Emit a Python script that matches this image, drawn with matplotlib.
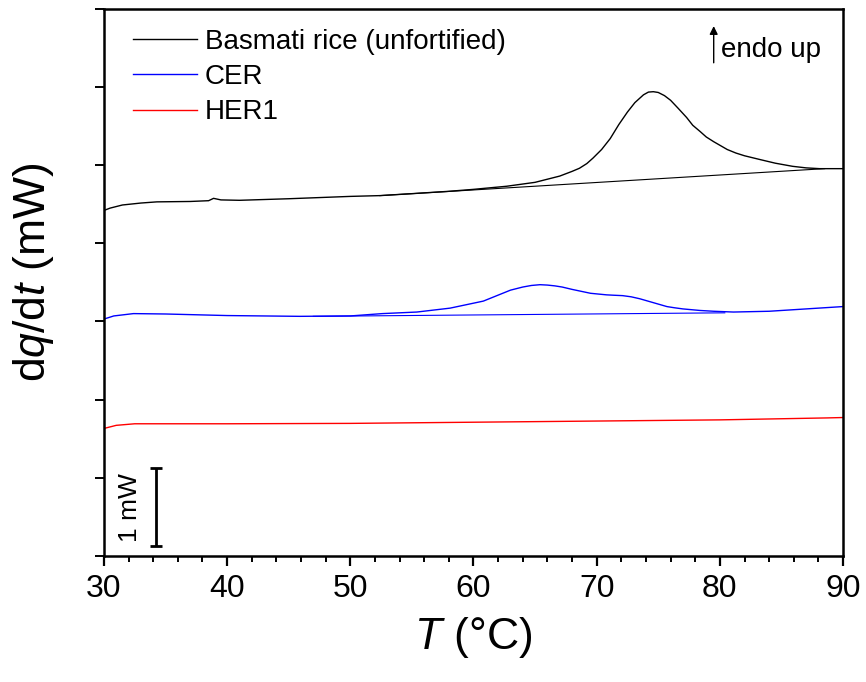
import matplotlib
matplotlib.use("Agg")
import matplotlib.pyplot as plt
from matplotlib.ticker import MultipleLocator

plt.rcParams['font.family'] = ['Liberation Sans', 'DejaVu Sans']
plt.rcParams['mathtext.fontset'] = 'custom'
plt.rcParams['mathtext.rm'] = 'Liberation Sans'
plt.rcParams['mathtext.it'] = 'Liberation Sans:italic'

# Basmati rice (unfortified)
rice_T = [30.0, 30.5, 31.5, 33.0, 34.3, 37.0, 38.5, 38.9, 39.5, 41.0, 45.0,
          50.0, 52.4, 55.0, 58.0, 60.0, 62.7, 65.0, 66.0, 67.0, 68.0, 68.6,
          69.2, 69.7, 70.4, 71.1, 71.8, 72.5, 73.1, 73.8, 74.2, 74.6, 75.0,
          75.5, 76.0, 76.6, 77.3, 77.8, 78.4, 78.9, 79.5, 80.6, 81.3, 82.0,
          83.3, 84.5, 85.9, 87.0, 88.1, 90.0]
rice_q = [4.42, 4.45, 4.49, 4.515, 4.53, 4.535, 4.545, 4.575, 4.555, 4.55, 4.57,
          4.60, 4.61, 4.635, 4.665, 4.69, 4.73, 4.78, 4.82, 4.86, 4.92, 4.96,
          5.02, 5.09, 5.20, 5.34, 5.52, 5.68, 5.80, 5.90, 5.935, 5.94, 5.93,
          5.89, 5.83, 5.73, 5.61, 5.51, 5.43, 5.36, 5.30, 5.20, 5.155, 5.12,
          5.07, 5.025, 4.985, 4.965, 4.955, 4.955]
rice_base_T = [52.4, 88.5]
rice_base_q = [4.61, 4.955]

# CER
cer_T = [30.0, 30.8, 32.4, 35.0, 40.0, 45.9, 50.0, 52.6, 55.4, 58.1, 60.8,
         61.9, 63.0, 64.0, 64.7, 65.4, 66.0, 66.6, 67.2, 68.0, 69.5, 70.8,
         71.4, 72.1, 72.8, 73.5, 74.6, 75.7, 76.3, 77.0, 78.4, 79.5, 81.1,
         84.0, 87.0, 90.0]
cer_q = [3.03, 3.07, 3.10, 3.095, 3.075, 3.065, 3.07, 3.10, 3.12, 3.17, 3.26,
         3.33, 3.40, 3.44, 3.46, 3.47, 3.465, 3.455, 3.44, 3.41, 3.36, 3.34,
         3.335, 3.33, 3.315, 3.29, 3.24, 3.19, 3.175, 3.16, 3.14, 3.13, 3.12,
         3.13, 3.16, 3.19]
cer_base_T = [47.0, 80.4]
cer_base_q = [3.065, 3.11]

# HER1
her_T = [30.0, 31.0, 32.5, 40.0, 50.0, 60.0, 70.0, 80.0, 88.7, 90.0]
her_q = [1.63, 1.67, 1.69, 1.69, 1.695, 1.71, 1.725, 1.74, 1.765, 1.77]

# 1 mW scale bar
bar_T = 34.2
bar_lo, bar_hi = 0.12, 1.12

fig = plt.figure(figsize=(8.66, 6.82), dpi=100)
ax = fig.add_axes([0.120, 0.185, 0.8535, 0.802])

ax.plot(rice_T, rice_q, color='black', lw=1.0, label='Basmati rice (unfortified)')
ax.plot(rice_base_T, rice_base_q, color='black', lw=0.8)
ax.plot(cer_T, cer_q, color='#0000ff', lw=1.0, label='CER')
ax.plot(cer_base_T, cer_base_q, color='#0000ff', lw=0.8)
ax.plot(her_T, her_q, color='#ff0000', lw=1.0, label='HER1')

ax.errorbar([bar_T], [(bar_lo + bar_hi) / 2], yerr=[(bar_hi - bar_lo) / 2],
            fmt='none', ecolor='black', elinewidth=2, capsize=4.5, capthick=2)
ax.text(32.1, (bar_lo + bar_hi) / 2, '1 mW', rotation=90, fontsize=19,
        ha='center', va='center')

ax.annotate('', xy=(79.5, 6.78), xytext=(79.5, 6.31),
            arrowprops=dict(arrowstyle='-|>', color='black', lw=1,
                            mutation_scale=12, shrinkA=0, shrinkB=0))
ax.text(80.1, 6.47, 'endo up', fontsize=20, ha='left', va='center')

ax.set_xlim(30, 90)
ax.set_ylim(0, 7)
ax.xaxis.set_major_locator(MultipleLocator(10))
ax.xaxis.set_minor_locator(MultipleLocator(2))
ax.yaxis.set_major_locator(MultipleLocator(1))
ax.set_yticklabels([])
ax.tick_params(axis='x', which='major', direction='out', length=7, width=1.6,
               labelsize=23, pad=6)
ax.tick_params(axis='x', which='minor', direction='out', length=4.5, width=1.4)
ax.tick_params(axis='y', which='major', direction='out', length=6.5, width=1.4)
for s in ax.spines.values():
    s.set_linewidth(1.8)

ax.set_xlabel(r'$T$ (°C)', fontsize=32, labelpad=8)
ax.set_ylabel(r'd$q$/d$t$ (mW)', fontsize=32)
ax.yaxis.set_label_coords(-0.0645, 0.519)

ax.legend(loc='upper left', bbox_to_anchor=(0.039, 0.964), frameon=False,
          fontsize=20, handlelength=2.3, handletextpad=0.3, labelspacing=0.34,
          borderpad=0, borderaxespad=0)

fig.savefig('out.png', dpi=100)
